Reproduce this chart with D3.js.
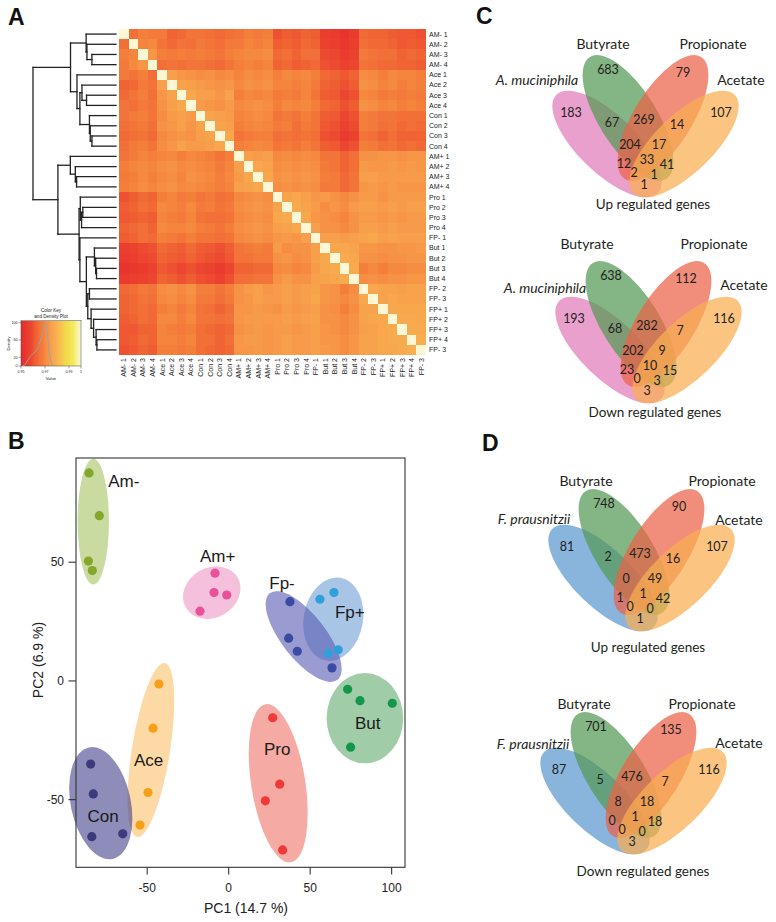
<!DOCTYPE html>
<html><head><meta charset="utf-8">
<script src="https://cdn.jsdelivr.net/npm/d3@7"></script>
<style>
body{margin:0;background:#fff}
svg{display:block}
text{font-family:"Liberation Sans",Arial,sans-serif;fill:#222}
.venn text{font-family:Lato,"Open Sans",sans-serif;fill:#231f20}
</style>
</head><body>
<svg id="fig" width="776" height="922"></svg>
<script>
// ---------------- DATA ----------------
const samples = ["AM- 1","AM- 2","AM- 3","AM- 4","Ace 1","Ace 2","Ace 3","Ace 4","Con 1","Con 2","Con 3","Con 4",
  "AM+ 1","AM+ 2","AM+ 3","AM+ 4","Pro 1","Pro 2","Pro 3","Pro 4","FP- 1","But 1","But 2","But 3","But 4",
  "FP- 2","FP- 3","FP+ 1","FP+ 2","FP+ 3","FP+ 4","FP- 3"];

// correlation (x1000), lower triangle incl. diagonal, rows in sample order
const corrLower = [
[1000],
[965,1000],
[968,969,1000],
[967,970,973,1000],
[967,966,968,965,1000],
[963,964,967,966,975,1000],
[964,966,968,965,973,976,1000],
[966,965,967,966,972,975,977,1000],
[966,967,968,966,971,974,975,974,1000],
[965,966,967,965,972,973,975,973,976,1000],
[964,965,966,964,970,972,973,972,975,976,1000],
[965,967,968,966,971,973,976,974,974,975,977,1000],
[966,967,969,968,969,970,968,970,969,968,966,968,1000],
[968,969,970,969,971,972,970,971,970,969,967,969,975,1000],
[967,968,970,968,970,971,969,972,971,970,968,970,974,977,1000],
[968,969,971,969,971,972,970,971,970,969,968,969,975,976,977,1000],
[960,962,964,963,968,969,967,968,966,967,965,966,970,971,972,971,1000],
[962,963,965,964,970,969,968,970,967,968,966,967,971,972,973,972,976,1000],
[961,962,963,962,969,968,967,969,966,965,965,966,970,971,972,971,977,978,1000],
[963,964,965,963,970,969,969,970,968,967,966,968,971,972,973,972,975,976,977,1000],
[962,963,965,964,968,967,966,968,966,966,965,966,970,971,972,971,973,974,973,975,1000],
[956,957,959,960,964,963,962,964,962,961,960,962,966,967,968,967,974,971,972,972,975,1000],
[955,956,958,959,963,962,961,963,961,960,959,961,966,966,967,967,972,973,971,972,975,977,1000],
[953,954,955,957,961,960,958,960,958,957,955,958,963,963,964,964,970,971,969,970,974,977,978,1000],
[955,956,957,958,963,962,960,962,960,959,957,960,965,965,966,966,972,974,972,972,975,976,977,978,1000],
[964,965,967,966,971,972,970,972,968,968,966,968,972,974,975,973,974,975,974,975,976,973,972,968,971,1000],
[963,964,966,965,970,971,969,971,967,967,965,967,972,973,975,974,974,975,974,975,977,973,972,970,972,977,1000],
[963,964,965,964,968,969,967,969,966,965,963,965,973,973,974,973,972,974,973,974,975,972,971,968,971,976,976,1000],
[962,963,965,964,970,970,968,970,966,966,965,966,973,974,974,974,974,975,974,975,976,972,972,970,972,976,977,977,1000],
[961,961,963,963,969,968,967,968,965,964,963,964,972,973,974,973,974,974,973,974,975,973,972,970,972,975,976,977,978,1000],
[961,962,964,963,969,969,968,969,965,965,963,965,973,974,974,973,974,975,974,974,975,973,973,971,973,976,976,977,978,978,1000],
[960,961,963,962,968,968,967,968,965,964,963,964,973,973,974,973,974,975,974,974,975,974,973,971,973,976,976,977,977,978,979,1000]
];

// dendrogram: [height, left, right]; leaves in row order
const dendro = [1.00,
  [0.548,
    [0.36, "AM- 1", [0.35, "AM- 2", [0.29, "AM- 3", "AM- 4"]]],
    [0.47, "Ace 1",
      [0.435,
        [0.41, "Ace 2", [0.355, "Ace 3", "Ace 4"]],
        [0.32, "Con 1", [0.31, "Con 2", [0.29, "Con 3", "Con 4"]]]]]],
  [0.70,
    [0.55, "AM+ 1", [0.49, "AM+ 2", [0.475, "AM+ 3", "AM+ 4"]]],
    [0.445,
      [0.43, "Pro 1", [0.415, [0.40, "Pro 2", "Pro 3"], "Pro 4"]],
      [0.435, "FP- 1",
        [0.357,
          [0.26, "But 1", [0.245, "But 2", [0.235, "But 3", "But 4"]]],
          [0.34, [0.32, "FP- 2", "FP- 3"],
            [0.30, "FP+ 1", [0.27, "FP+ 2", [0.24, "FP+ 3", [0.23, "FP+ 4", "FP- 3"]]]]]]]]]];

// colour key
const keyStops = [950,958,964,969,974,980,987,993,1000];
const keyColors = ["#e62a2a","#ec4530","#f16a35","#f5843d","#f79b4a","#f8b250","#f3d84a","#f2ea5a","#fdf7d6"];
const keyTicks = [950,970,990,1000];
const keyTickLabels = ["0.95","0.97","0.99","1"];
const densTicks = [0,20,60,100];
const densityX = [951,953,957.5,960,962.8,966.4,969.8,971.4,973.3,975.5,978];
const densityY = [0,2,21,29,35,60,97,95,33,5,0];

// PCA
const pcGroups = ["Am-","Am+","Fp+","Fp-","Ace","Con","Pro","But"];
const pcPoints = {
  "Am-":[[-85.7,87.6],[-79.4,69.6],[-86.1,50.5],[-83.7,46.5]],
  "Am+":[[-8.4,45.4],[-9.0,37.2],[-1.2,36.2],[-17.6,29.4]],
  "Fp-":[[37.6,33.4],[36.8,18.0],[42.1,12.5],[63.4,5.5]],
  "Fp+":[[56.0,34.4],[64.6,37.2],[61.1,11.7],[67.2,13.1]],
  "Ace":[[-42.8,-1.3],[-46.4,-19.9],[-49.5,-47.0],[-54.4,-60.7]],
  "Con":[[-84.7,-35.0],[-83.1,-47.6],[-84.0,-65.6],[-65.0,-64.4]],
  "Pro":[[27.0,-15.5],[31.3,-43.5],[22.5,-50.5],[33.1,-71.2]],
  "But":[[73.0,-3.5],[80.6,-8.3],[100.4,-9.4],[74.8,-27.9]]
};
// group ellipses: centre pc1, centre pc2, half-width (pc1 units), half-height (pc2 units), tilt
const pcEllipses = {
  "Am-":[-83.1,67.1,9.6,26.5,0],
  "Am+":[-10.4,37.2,18.4,10.5,-30],
  "Fp-":[46.0,18.7,33.7,9.3,52],
  "Fp+":[64.2,26.0,18.2,17.7,10],
  "Ace":[-47.7,-29.1,11.7,37.1,9],
  "Con":[-78.5,-51.5,18.4,24.0,-12],
  "Pro":[30.4,-43.1,16.6,33.7,-9],
  "But":[83.6,-15.7,23.5,19.0,0]
};
const pcLabelAt = {"Am-":[-73.9,81.6],"Am+":[-17.6,50.3],"Fp-":[24.9,38.6],"Fp+":[65.2,26.4],
  "Ace":[-58.1,-35.8],"Con":[-86.7,-59.3],"Pro":[21.7,-31.2],"But":[77.5,-20.2]};
const pcTicksX = [-50,0,50,100];
const pcTicksY = [-50,0,50];

// Venn
const vennRegions = ["A","B","C","D","AB","BC","CD","ABC","BCD","AC","ABCD","BD","ACD","ABD","AD"];
const amUp   = [183,683,79,107,67,269,14,204,17,12,33,41,2,1,1];
const amDown = [193,638,112,116,68,282,7,202,9,23,10,15,0,3,3];
const fpUp   = [81,748,90,107,2,473,16,0,49,1,1,42,0,0,1];
const fpDown = [87,701,135,116,5,476,7,8,18,0,1,18,0,0,3];
const vennSetNamesAm = ["A. muciniphila","Butyrate","Propionate","Acetate"];
const vennSetNamesFp = ["F. prausnitzii","Butyrate","Propionate","Acetate"];

// ---------------- DRAW ----------------
const svg = d3.select("#fig");

function panelLetter(t,x,y){
  svg.append("text").attr("x",x).attr("y",y).attr("font-size",23).attr("font-weight","bold")
    .style("fill","#111").text(t);
}
panelLetter("A",8,25); panelLetter("B",8,449); panelLetter("C",476,24); panelLetter("D",482,451);

// ---- Panel A: heatmap
const n = samples.length;
const corr = (i,j)=> i>=j ? corrLower[i][j] : corrLower[j][i];
const xH = d3.scaleBand().domain(d3.range(n)).range([119,426]);
const yH = d3.scaleBand().domain(d3.range(n)).range([29,355]);
const heat = d3.scaleLinear().domain(keyStops).range(keyColors).clamp(true);

const gH = svg.append("g").attr("shape-rendering","crispEdges");
const cells = [];
for(let i=0;i<n;i++) for(let j=0;j<n;j++) cells.push({i,j,v:corr(i,j)});
gH.selectAll("rect").data(cells).join("rect")
  .attr("x",d=>xH(d.j)).attr("y",d=>yH(d.i))
  .attr("width",xH.bandwidth()+0.4).attr("height",yH.bandwidth()+0.4)
  .attr("fill",d=>heat(d.v));

svg.append("g").selectAll("text").data(samples).join("text")
  .attr("x",429).attr("y",(d,i)=>yH(i)+yH.bandwidth()/2).attr("dy","0.35em")
  .attr("font-size",7).text(d=>d);
svg.append("g").selectAll("text").data(samples).join("text")
  .attr("transform",(d,i)=>`translate(${xH(i)+xH.bandwidth()/2+2.5},358) rotate(-90)`)
  .attr("text-anchor","end").attr("font-size",7).text(d=>d);

// dendrogram
const hx = d3.scaleLinear().domain([0,1]).range([116,33]);
let leafCounter = 0;
function build(node){
  if(typeof node==="string"){
    const y = yH(leafCounter)+yH.bandwidth()/2; leafCounter++;
    return {h:0,y};
  }
  const a = build(node[1]), b = build(node[2]);
  return {h:node[0], y:(a.y+b.y)/2, kids:[a,b]};
}
const root = build(dendro);
const segs = [];
(function walk(nd){
  if(!nd.kids) return;
  const x = hx(nd.h);
  segs.push([x,nd.kids[0].y,x,nd.kids[1].y]);
  nd.kids.forEach(k=>{ segs.push([x,k.y,hx(k.h),k.y]); walk(k); });
})(root);
svg.append("g").selectAll("line").data(segs).join("line")
  .attr("x1",d=>d[0]).attr("y1",d=>d[1]).attr("x2",d=>d[2]).attr("y2",d=>d[3])
  .attr("stroke","#222").attr("stroke-width",1.3).attr("stroke-linecap","square");

// colour key
const kx = d3.scaleLinear().domain([950,1000]).range([21,81]);
const ky = d3.scaleLinear().domain([0,100]).range([366,322.7]);
const gK = svg.append("g");
const bins = d3.range(950,1000,1);
gK.selectAll("rect.bin").data(bins).join("rect").attr("class","bin")
  .attr("x",d=>kx(d)).attr("y",320.7).attr("width",kx(d3.min(bins)+1)-kx(d3.min(bins))+0.2).attr("height",45.3)
  .attr("fill",d=>heat(d+0.5)).attr("shape-rendering","crispEdges");
gK.append("rect").attr("x",21).attr("y",320.7).attr("width",60).attr("height",45.3)
  .attr("fill","none").attr("stroke","#444").attr("stroke-width",0.5);
gK.append("path").datum(densityX.map((x,i)=>[x,densityY[i]]))
  .attr("d",d3.line().x(d=>kx(d[0])).y(d=>ky(d[1])))
  .attr("fill","none").attr("stroke","#9fa0a0").attr("stroke-width",0.9);
gK.selectAll("line.kt").data(keyTicks).join("line").attr("class","kt")
  .attr("x1",d=>kx(d)).attr("x2",d=>kx(d)).attr("y1",366).attr("y2",368.5).attr("stroke","#444").attr("stroke-width",0.5);
gK.selectAll("text.kt").data(keyTicks).join("text").attr("class","kt")
  .attr("x",d=>kx(d)).attr("y",373).attr("text-anchor","middle").attr("font-size",3.6).text((d,i)=>keyTickLabels[i]);
gK.selectAll("line.dt").data(densTicks).join("line").attr("class","dt")
  .attr("x1",18.5).attr("x2",21).attr("y1",d=>ky(d)).attr("y2",d=>ky(d)).attr("stroke","#444").attr("stroke-width",0.5);
gK.selectAll("text.dt").data(densTicks).join("text").attr("class","dt")
  .attr("x",17.5).attr("y",d=>ky(d)).attr("dy","0.35em").attr("text-anchor","end").attr("font-size",3.6).text(d=>d);
gK.append("text").attr("x",51).attr("y",379.5).attr("text-anchor","middle").attr("font-size",4.2).text("Value");
gK.append("text").attr("transform","translate(10,343.5) rotate(-90)").attr("text-anchor","middle").attr("font-size",4.2).text("Density");
gK.append("text").attr("x",51).attr("y",312).attr("text-anchor","middle").attr("font-size",4.6).text("Color Key");
gK.append("text").attr("x",51).attr("y",318).attr("text-anchor","middle").attr("font-size",4.6).text("and Density Plot");

// ---- Panel B: PCA
const xB = d3.scaleLinear().domain([-93.7,108.2]).range([76,405]);
const yB = d3.scaleLinear().domain([-78.5,93.9]).range([867.3,458]);
const fillE = {"Am-":"#a5c361","Am+":"#ee96c5","Fp-":"#5758b1","Fp+":"#709ed5","Ace":"#fcc06b","Con":"#433f89","Pro":"#ee7366","But":"#61aa6e"};
const dotC  = {"Am-":"#84a62b","Am+":"#e9529b","Fp-":"#3b4ba3","Fp+":"#2ea0da","Ace":"#f6a01a","Con":"#3a3a7d","Pro":"#ee3b39","But":"#12964a"};
const gB = svg.append("g");
const kxB = xB(1)-xB(0), kyB = yB(0)-yB(1);
pcGroups.forEach(g=>{
  const e = pcEllipses[g];
  gB.append("ellipse")
    .attr("transform",`translate(${xB(e[0])},${yB(e[1])}) rotate(${e[4]})`)
    .attr("rx",e[2]*kxB).attr("ry",e[3]*kyB)
    .attr("fill",fillE[g]).attr("fill-opacity",0.6);
});
pcGroups.forEach(g=>{
  gB.append("g").selectAll("circle").data(pcPoints[g]).join("circle")
    .attr("cx",d=>xB(d[0])).attr("cy",d=>yB(d[1])).attr("r",4.6).attr("fill",dotC[g]);
});
pcGroups.forEach(g=>{
  const p = pcLabelAt[g];
  gB.append("text").attr("x",xB(p[0])).attr("y",yB(p[1])).attr("font-size",17).style("fill","#1a1a1a").text(g);
});
gB.append("rect").attr("x",76).attr("y",458).attr("width",329).attr("height",409.3)
  .attr("fill","none").attr("stroke","#333").attr("stroke-width",1.1);
gB.selectAll("line.xt").data(pcTicksX).join("line").attr("class","xt")
  .attr("x1",d=>xB(d)).attr("x2",d=>xB(d)).attr("y1",867.3).attr("y2",874.5).attr("stroke","#333").attr("stroke-width",1.1);
gB.selectAll("text.xt").data(pcTicksX).join("text").attr("class","xt")
  .attr("x",d=>xB(d)).attr("y",892).attr("text-anchor","middle").attr("font-size",12).text(d=>d);
gB.selectAll("line.yt").data(pcTicksY).join("line").attr("class","yt")
  .attr("x1",68.5).attr("x2",76).attr("y1",d=>yB(d)).attr("y2",d=>yB(d)).attr("stroke","#333").attr("stroke-width",1.1);
gB.selectAll("text.yt").data(pcTicksY).join("text").attr("class","yt")
  .attr("x",64).attr("y",d=>yB(d)).attr("dy","0.35em").attr("text-anchor","end").attr("font-size",12).text(d=>d);
gB.append("text").attr("x",246).attr("y",913).attr("text-anchor","middle").attr("font-size",14).text("PC1 (14.7 %)");
gB.append("text").attr("transform","translate(43,660) rotate(-90)").attr("text-anchor","middle").attr("font-size",14).text("PC2 (6.9 %)");

// ---- Panels C & D: Venn diagrams
const vennShape = [ // base frame: cx, cy, a, b, rotation
  [607,144,70.7,29,44],[628,118,72,29,58],[663,118,72,29,122],[684,144,70.7,29,136]];
const regionAt = {A:[571,113],B:[608,70],C:[683,73],D:[721,113],AB:[612,123],BC:[644,120],CD:[677,125],
  ABC:[630,145],BCD:[659,145],AC:[624,164],ABCD:[647,160],BD:[667,165],ACD:[634,172.5],ABD:[654,175],AD:[644,185]};
const vennPanels = [
  {vals:amUp,   names:vennSetNamesAm, title:"Up regulated genes",   dx:0,  dy:0,   col0:"#e27bba",
   lab:[[537,85],[603,49],[713,49],[741,85]], t:[653,209]},
  {vals:amDown, names:vennSetNamesAm, title:"Down regulated genes", dx:3,  dy:206, col0:"#e27bba",
   lab:[[545,293],[587,249],[714,249],[744,290]], t:[655,417]},
  {vals:fpUp,   names:vennSetNamesFp, title:"Up regulated genes",   dx:-4, dy:434, col0:"#5b98d0",
   lab:[[534,524],[586,486],[722,486],[739,525]], t:[648,652]},
  {vals:fpDown, names:vennSetNamesFp, title:"Down regulated genes", dx:-12,dy:657, col0:"#5b98d0",
   lab:[[533,749],[584,709],[702,709],[739,748]], t:[643,876]}
];
const setCols = [null,"#549854","#eb6348","#faae50"];
vennPanels.forEach(P=>{
  const g = svg.append("g").attr("class","venn");
  vennShape.forEach((s,k)=>{
    g.append("ellipse").attr("transform",`translate(${s[0]+P.dx},${s[1]+P.dy}) rotate(${s[4]})`)
      .attr("rx",s[2]).attr("ry",s[3]).attr("fill",k===0?P.col0:setCols[k]).attr("fill-opacity",0.72);
  });
  vennRegions.forEach((r,i)=>{
    const p = regionAt[r];
    g.append("text").attr("x",p[0]+P.dx).attr("y",p[1]+P.dy).attr("dy","0.35em")
      .attr("text-anchor","middle").attr("font-size",12.5).text(P.vals[i]);
  });
  P.names.forEach((nm,k)=>{
    g.append("text").attr("x",P.lab[k][0]).attr("y",P.lab[k][1]).attr("text-anchor","middle")
      .attr("font-size",14).attr("font-style",k===0?"italic":"normal").text(nm);
  });
  g.append("text").attr("x",P.t[0]).attr("y",P.t[1]).attr("text-anchor","middle").attr("font-size",13.5).text(P.title);
});
</script>
</body></html>
